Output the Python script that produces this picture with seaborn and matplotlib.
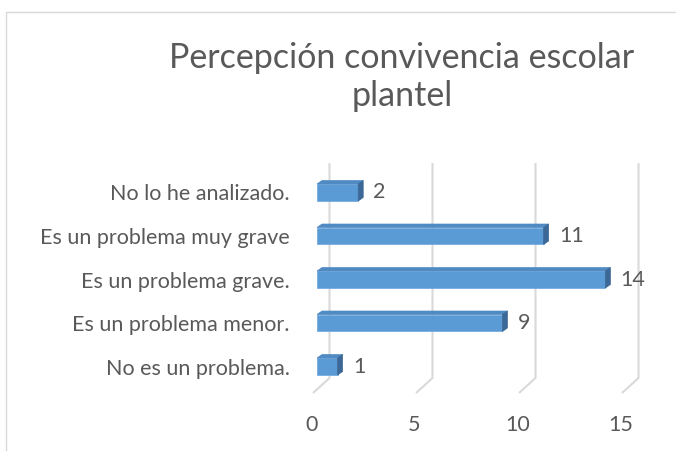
import matplotlib
matplotlib.use("Agg")
import matplotlib.pyplot as plt
import matplotlib.transforms as mtransforms
from matplotlib.patches import Polygon, Rectangle
import seaborn as sns
import pandas as pd

categories = ["No lo he analizado.", "Es un problema muy grave", "Es un problema grave.",
              "Es un problema menor.", "No es un problema."]
values = [2, 11, 14, 9, 1]
xticks = [0, 5, 10, 15]
title = "Percepción convivencia escolar\nplantel"

sns.set_theme(style="white")
plt.rcParams["font.family"] = ["Lato", "DejaVu Sans"]

W, H = 676, 451
fig = plt.figure(figsize=(W / 100, H / 100), dpi=100)
fig.patch.set_facecolor("white")

# axes layout in pixels
ax_left, ax_right, ax_top, ax_bottom = 317, 626, 163, 393
ax = fig.add_axes([ax_left / W, 1 - ax_bottom / H, (ax_right - ax_left) / W, (ax_bottom - ax_top) / H])

df = pd.DataFrame({"cat": categories, "val": values})
FRONT = "#5b9bd5"
sns.barplot(data=df, x="val", y="cat", orient="h", color=FRONT, saturation=1,
            width=0.39, ax=ax, zorder=3, edgecolor="#6aa6dc", linewidth=0.5)

ymin_d, ymax_d = -0.678, 4.609
ax.set_xlim(0, 15)
ax.set_ylim(ymax_d, ymin_d)

pxx = (ax_right - ax_left) / 15.0
pxy = (ax_bottom - ax_top) / (ymax_d - ymin_d)

# 3D gridlines (back wall + floor slant)
GRID = "#d9d9d9"
for t in xticks:
    fx = t - 4 / pxx
    bx = t + 12.5 / pxx
    ax.plot([fx, bx, bx], [ymax_d, ymax_d - 15 / pxy, ymin_d], color=GRID, lw=1.5,
            zorder=0, clip_on=False, solid_capstyle="butt")

# 3D bar faces
dx, dy = 5 / pxx, 3.5 / pxy
for p in ax.patches:
    x0, y0 = p.get_x(), p.get_y()
    w, h = p.get_width(), p.get_height()
    ytop, ybot = y0, y0 + h  # inverted axis: y0 is the top
    top = Polygon([(x0, ytop), (x0 + w, ytop), (x0 + w + dx, ytop - dy), (x0 + dx, ytop - dy)],
                  closed=True, facecolor="#4f8ac3", edgecolor="#4f8ac3", lw=0.5, zorder=3)
    side = Polygon([(x0 + w, ytop), (x0 + w + dx, ytop - dy), (x0 + w + dx, ybot - dy), (x0 + w, ybot)],
                   closed=True, facecolor="#3b6896", edgecolor="#3b6896", lw=0.5, zorder=3)
    ax.add_patch(top)
    ax.add_patch(side)

TXT = "#595959"
FS = 15.5
ax.bar_label(ax.containers[0], padding=11, fontsize=FS, color=TXT)

ax.set_xticks(xticks)
ax.set_xticklabels([str(t) for t in xticks])
ax.set_xlabel("")
ax.set_ylabel("")
ax.tick_params(axis="x", length=0, pad=16, labelsize=FS, labelcolor=TXT)
ax.tick_params(axis="y", length=0, pad=19.5, labelsize=FS, labelcolor=TXT)
for lab in ax.get_xticklabels():
    lab.set_transform(lab.get_transform() + mtransforms.ScaledTranslation(-4 / 72, 0, fig.dpi_scale_trans))
for s in ax.spines.values():
    s.set_visible(False)
ax.set_facecolor("none")
ax.grid(False)

fig.text(402 / W, 1 - 77 / H, title, ha="center", va="center", fontsize=24.5, color=TXT, linespacing=1.25)

fig.add_artist(Rectangle((6 / W, -0.1), 1.2, (H - 12) / H + 0.1, transform=fig.transFigure,
                         fill=False, edgecolor="#d9d9d9", lw=1))

fig.savefig("out.png", dpi=100)
